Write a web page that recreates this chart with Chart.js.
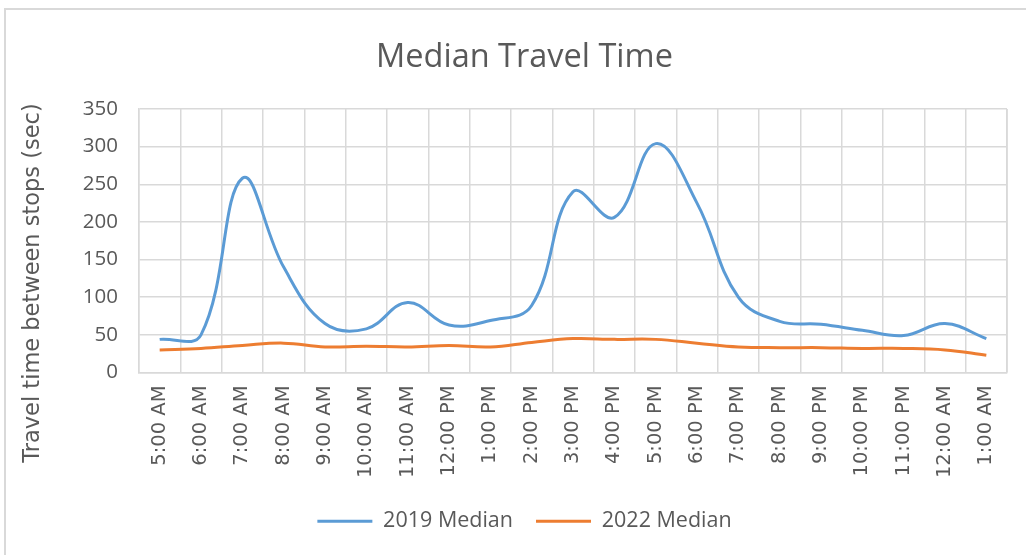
<!DOCTYPE html>
<html>
<head>
<meta charset="utf-8">
<script src="https://cdn.jsdelivr.net/npm/chart.js@4/dist/chart.umd.min.js"></script>
<style>
    html, body { margin: 0; padding: 0; background: #fff; }
    #marco {
        position: absolute; left: 4px; top: 8px; width: 1030px; height: 560px;
        border-top: 2px solid #d9d9d9; border-left: 2px solid #d9d9d9;
    }
    #admin-chart { position: absolute; left: 0; top: 0; }
</style>
</head>
<body>
<div id="marco"></div>
<canvas id="admin-chart" width="1026" height="555"></canvas>
<script>
// --- DATOS DEL GRÁFICO ---
const horas = ['5:00 AM', '6:00 AM', '7:00 AM', '8:00 AM', '9:00 AM', '10:00 AM', '11:00 AM',
    '12:00 PM', '1:00 PM', '2:00 PM', '3:00 PM', '4:00 PM', '5:00 PM', '6:00 PM', '7:00 PM',
    '8:00 PM', '9:00 PM', '10:00 PM', '11:00 PM', '12:00 AM', '1:00 AM'];
const mediana2019 = [44, 50, 258, 140, 65, 58, 93, 63, 69, 89, 240, 206, 304, 225, 100, 68, 64, 56, 49, 65, 45];
const mediana2022 = [30, 32, 36, 39, 34, 35, 34, 36, 34, 40, 45, 44, 44, 39, 34, 33, 33, 32, 32, 30, 23];
const ticksY = [0, 50, 100, 150, 200, 250, 300, 350];
const tituloEjeY = 'Travel time between stops (sec)';

document.addEventListener('DOMContentLoaded', () => {
    const ctx = document.getElementById('admin-chart');
    const gris = '#595959';
    const rejilla = '#d9d9d9';
    const fuente = 'Open Sans';

    new Chart(ctx, {
        type: 'line',
        data: {
            labels: horas,
            datasets: [
                { label: '2019 Median', data: mediana2019, borderColor: '#5b9bd5', backgroundColor: '#5b9bd5',
                  borderWidth: 3, tension: 0.4, pointRadius: 0, fill: false },
                { label: '2022 Median', data: mediana2022, borderColor: '#ed7d31', backgroundColor: '#ed7d31',
                  borderWidth: 3, tension: 0.4, pointRadius: 0, fill: false }
            ]
        },
        options: {
            responsive: false,
            animation: false,
            layout: { padding: { left: 42, right: 19, top: 0, bottom: 13 } },
            plugins: {
                title: {
                    display: true, text: 'Median Travel Time', color: gris,
                    font: { family: fuente, size: 32.5, weight: 'normal' },
                    padding: { top: 38, bottom: 32 }
                },
                legend: {
                    position: 'bottom',
                    labels: {
                        color: gris, font: { family: fuente, size: 21.5 },
                        usePointStyle: true, pointStyle: 'line', pointStyleWidth: 55,
                        padding: 23
                    }
                },
                tooltip: { enabled: false }
            },
            scales: {
                x: {
                    offset: true,
                    grid: { offset: true, color: rejilla, lineWidth: 1.5, drawTicks: false },
                    border: { color: rejilla, width: 1.5 },
                    ticks: { color: gris, font: { family: 'DejaVu Sans', size: 19.5 }, minRotation: 90, maxRotation: 90, padding: 13, autoSkip: false },
                    afterFit: (scale) => { scale.height = 115; }
                },
                y: {
                    min: 0, max: 350,
                    afterBuildTicks: (scale) => { scale.ticks = ticksY.map(v => ({ value: v })); },
                    grid: { color: rejilla, lineWidth: 1.5, drawTicks: false },
                    border: { color: rejilla, width: 1.5 },
                    ticks: { color: gris, font: { family: fuente, size: 20.5 }, padding: 21 },
                    afterFit: (scale) => { scale.width = 139 - 42; }
                }
            }
        },
        plugins: [{
            // borde derecho del área y título del eje Y (como en Excel)
            id: 'extrasExcel',
            afterDraw(chart) {
                const a = chart.chartArea, c = chart.ctx;
                c.save();
                c.strokeStyle = rejilla; c.lineWidth = 1.5;
                c.beginPath(); c.moveTo(a.right, a.top); c.lineTo(a.right, a.bottom); c.stroke();
                c.translate(33, 283);
                c.rotate(-Math.PI / 2);
                c.fillStyle = gris;
                c.font = '22.5px "DejaVu Sans"';
                c.textAlign = 'center';
                c.textBaseline = 'middle';
                c.fillText(tituloEjeY, 0, 0);
                c.restore();
            }
        }]
    });
});
</script>
</body>
</html>
